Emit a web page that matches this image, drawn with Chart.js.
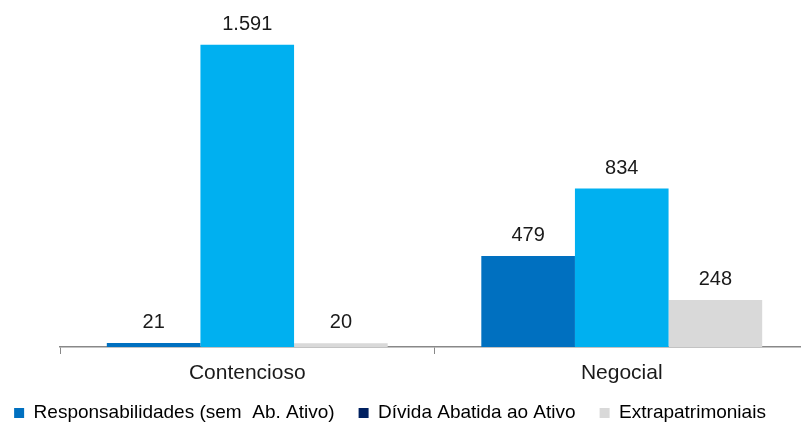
<!DOCTYPE html>
<html>
<head>
<meta charset="utf-8">
<script src="https://cdn.jsdelivr.net/npm/chart.js@4/dist/chart.umd.min.js"></script>
<style>
  html, body { margin: 0; padding: 0; background: #fff; overflow: hidden; }
  #wrap { width: 809px; height: 423px; }
</style>
</head>
<body>
<div id="wrap"><canvas id="grafico"></canvas></div>
<script>
const categorias = ["Contencioso", "Negocial"];
const nomesSeries = ["Responsabilidades (sem  Ab. Ativo)", "Dívida Abatida ao Ativo", "Extrapatrimoniais"];
const serie1 = [21, 479];
const serie2 = [1591, 834];
const serie3 = [20, 248];

const coresBarras = ["#0070C0", "#00B0F0", "#D9D9D9"];
const coresLegenda = ["#0070C0", "#002060", "#D9D9D9"];

const fonte = "'Liberation Sans', Arial, sans-serif";
const fmt = new Intl.NumberFormat("pt-BR");

// rótulos com o valor em cima de cada barra
const rotulosValor = {
    id: "rotulosValor",
    afterDatasetsDraw(chart) {
        const ctx = chart.ctx;
        ctx.save();
        ctx.font = "20px " + fonte;
        ctx.fillStyle = "#1a1a1a";
        ctx.textAlign = "center";
        ctx.textBaseline = "alphabetic";
        chart.data.datasets.forEach((ds, i) => {
            chart.getDatasetMeta(i).data.forEach((bar, j) => {
                ctx.fillText(fmt.format(ds.data[j]), bar.x, bar.y - 15);
            });
        });
        ctx.restore();
    }
};

// reposiciona a legenda: mais perto dos rótulos do eixo e um pouco à esquerda
const posLegenda = {
    id: "posLegenda",
    afterLayout(chart) {
        const lg = chart.legend;
        if (!lg) return;
        const h = lg.bottom - lg.top;
        lg.top = 379.5;
        lg.bottom = lg.top + h;
        lg.left -= 14.5;
        lg.right -= 14.5;
    }
};

new Chart(document.getElementById("grafico"), {
    type: "bar",
    data: {
        labels: categorias,
        datasets: [
            { label: nomesSeries[0], data: serie1, backgroundColor: coresBarras[0] },
            { label: nomesSeries[1], data: serie2, backgroundColor: coresBarras[1] },
            { label: nomesSeries[2], data: serie3, backgroundColor: coresBarras[2] }
        ]
    },
    options: {
        responsive: true,
        maintainAspectRatio: false,
        animation: false,
        layout: { padding: { left: 0, right: 0, top: 0, bottom: -23.2 } },
        datasets: { bar: { categoryPercentage: 0.75, barPercentage: 1.0 } },
        scales: {
            x: {
                grid: { display: true, drawOnChartArea: false, drawTicks: true, tickLength: 7, color: "#888", offset: true },
                border: { color: "#888", width: 1.5 },
                ticks: { color: "#1a1a1a", font: { family: fonte, size: 21 }, padding: 7 }
            },
            y: {
                min: 0,
                max: 1827,
                grid: { display: false },
                border: { display: false },
                ticks: { display: false },
                afterFit: (s) => { s.width = 60; }
            }
        },
        plugins: {
            tooltip: { enabled: false },
            legend: {
                position: "bottom",
                labels: {
                    boxWidth: 10,
                    boxHeight: 10,
                    padding: 24,
                    color: "#1a1a1a",
                    font: { family: fonte, size: 19 },
                    generateLabels: () => nomesSeries.map((nome, i) => ({
                        text: nome,
                        fillStyle: coresLegenda[i],
                        strokeStyle: coresLegenda[i],
                        lineWidth: 0,
                        datasetIndex: i
                    }))
                }
            }
        }
    },
    plugins: [rotulosValor, posLegenda]
});
</script>
</body>
</html>
